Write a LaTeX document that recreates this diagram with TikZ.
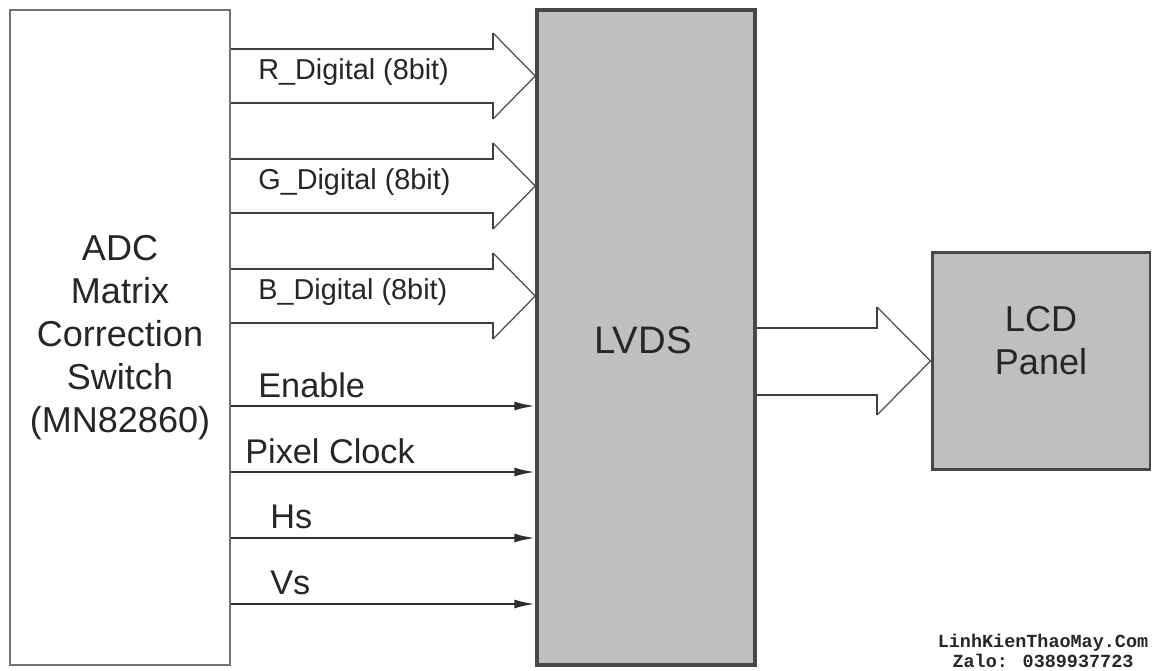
\documentclass[tikz,border=0pt]{standalone}
\usepackage{fontspec}
\setmainfont{Liberation Sans}
\newfontfamily\markfont{Liberation Mono}
\usetikzlibrary{arrows.meta}

\begin{document}
\begin{tikzpicture}[x=0.02cm, y=-0.02cm,
  block/.style={draw=black!72, line width=2pt, fill=black!25, minimum width=4.36cm, text=black!85, align=center, font=\fontsize{20.5}{24.5}\selectfont},
  bus/.style={draw=black!75, line width=1.6pt},
  head/.style={draw=black!70, line width=0.7pt},
  sig/.style={draw=black!82, line width=1.3pt, -{Latex[length=0.42cm, width=0.18cm]}},
  lbl/.style={anchor=west, text=black!85, inner sep=0pt, font=\fontsize{19.5}{23}\selectfont}]
  \useasboundingbox (0,0) rectangle (1156,670);

  % blocks
  \node[block, fill=white, draw=black!55, line width=1.1pt, minimum width=4.4cm, minimum height=13.1cm] (adc) at (120,337.5) {ADC\\Matrix\\Correction\\Switch\\(MN82860)};
  \node[block, minimum height=13.1cm] (lvds) at (646,337.5) {};
  \node[text=black!85, font=\fontsize{21.8}{26}\selectfont] (lvdstxt) at (643,340) {LVDS};
  \node[block, line width=1.7pt, minimum height=4.36cm] (lcd) at (1041,361) {};
  \node[align=center, text=black!85, font=\fontsize{20.5}{24.5}\selectfont] (lcdtxt) at ([yshift=0.4cm]lcd.center) {LCD\\Panel};

  % 8 bit buses
  \foreach \y/\name in {76/R, 186/G, 296/B} {
    \draw[bus] (adc.east |- 0,\y-27) -- (493,\y-27) -- (493,\y-43);
    \draw[head] (493,\y-43) -- (lvds.west |- 0,\y) -- (493,\y+43);
    \draw[bus] (493,\y+43) -- (493,\y+27) -- (adc.east |- 0,\y+27);
    \node[lbl, font=\fontsize{16.4}{19}\selectfont] (\name lbl) at (258,\y-4) {\name\_Digital (8bit)};
  }

  % control lines
  \foreach \y/\txt/\x in {406/Enable/258, 472/Pixel Clock/245, 538/Hs/270, 604/Vs/270} {
    \draw[sig] (adc.east |- 0,\y) -- (lvds.west |- 0,\y);
    \node[lbl] (s\y) at (\x,\y-21) {\txt};
  }

  % output bus
  \draw[bus] (lvds.east |- 0,328) -- (877,328) -- (877,307);
  \draw[head] (877,307) -- (lcd.west) -- (877,415);
  \draw[bus] (877,415) -- (877,395) -- (lvds.east |- 0,395);

  \node[align=center, inner sep=0pt, text=black!85, font=\markfont\bfseries\fontsize{10.5}{11.3}\selectfont] (mark) at (1043,651) {LinhKienThaoMay.Com\\Zalo: 0389937723};
\end{tikzpicture}
\end{document}
